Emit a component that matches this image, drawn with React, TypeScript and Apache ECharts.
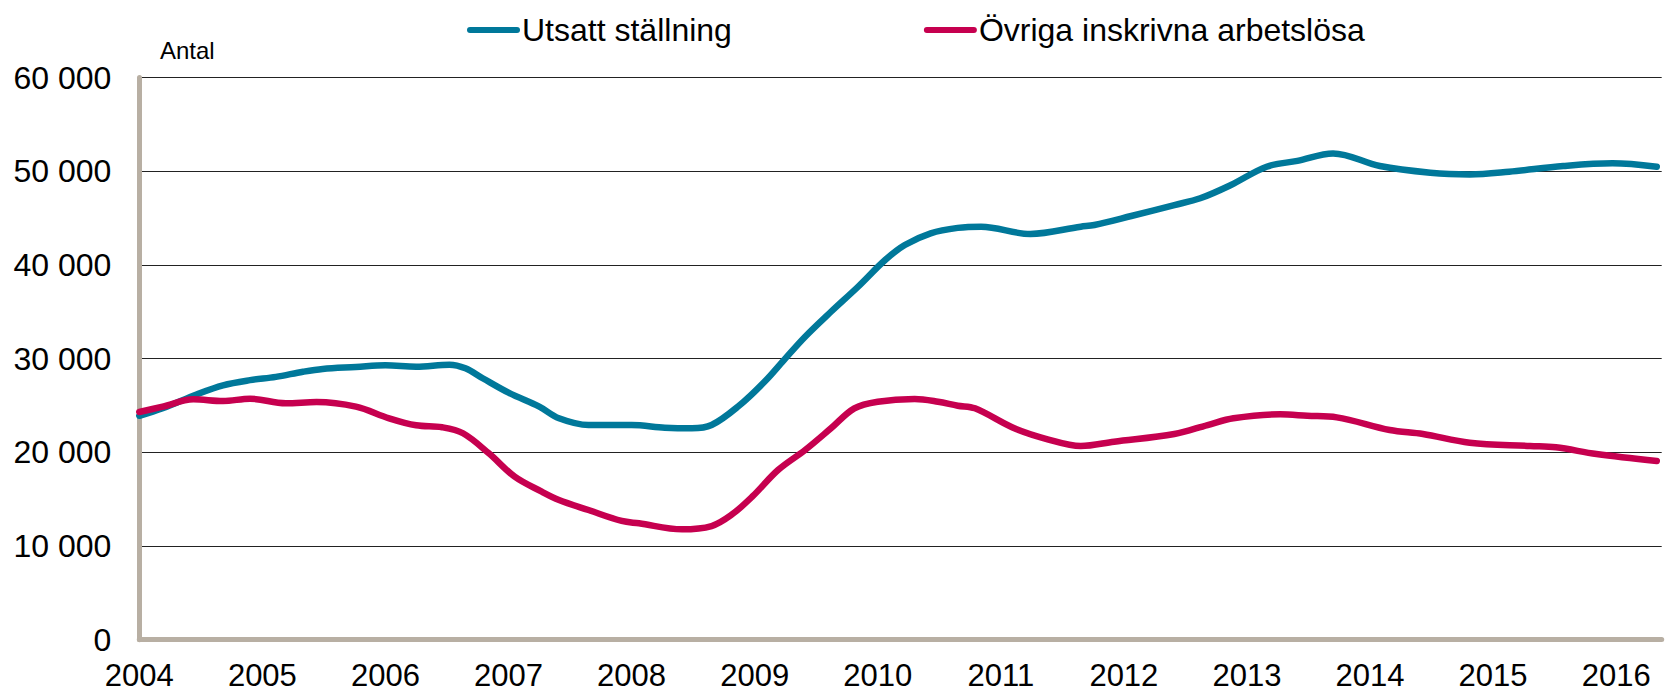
import React, { useEffect, useRef } from "react";
import * as echarts from "echarts";

// Sample times (decimal years) and values
const utsattTimes = [
  2004.0, 2004.19, 2004.47, 2004.68, 2004.9, 2005.11, 2005.33, 2005.49, 2005.76,
  2006.0, 2006.25, 2006.52, 2006.65, 2006.79, 2007.0, 2007.25, 2007.41, 2007.65,
  2008.0, 2008.27, 2008.49, 2008.65, 2008.87, 2009.08, 2009.25, 2009.41, 2009.62,
  2009.84, 2010.06, 2010.22, 2010.43, 2010.65, 2010.84, 2011.24, 2011.65, 2011.76,
  2012.06, 2012.41, 2012.62, 2012.87, 2013.16, 2013.41, 2013.7, 2014.08, 2014.49,
  2014.81, 2015.13, 2015.57, 2015.97, 2016.33,
];
const utsattValues = [
  23900, 24700, 26200, 27150, 27700, 28050, 28600, 28900, 29100,
  29280, 29140, 29350, 28960, 27900, 26360, 24870, 23630, 22910,
  22910, 22630, 22560, 22910, 24940, 27530, 30030, 32340, 35000,
  37670, 40520, 42120, 43370, 43950, 44080, 43300, 44080, 44260,
  45220, 46390, 47110, 48530, 50480, 51100, 51900, 50550, 49840,
  49660, 49950, 50550, 50840, 50480,
];

const ovrigaTimes = [
  2004.0, 2004.19, 2004.44, 2004.68, 2004.9, 2005.19, 2005.44, 2005.76, 2006.03,
  2006.25, 2006.46, 2006.63, 2006.84, 2007.05, 2007.27, 2007.41, 2007.65, 2007.92,
  2008.06, 2008.41, 2008.65, 2008.81, 2008.98, 2009.19, 2009.41, 2009.62, 2009.81,
  2010.0, 2010.3, 2010.49, 2010.65, 2010.79, 2011.11, 2011.38, 2011.65, 2011.92,
  2012.41, 2012.68, 2012.89, 2013.27, 2013.49, 2013.73, 2014.16, 2014.43, 2014.81,
  2015.3, 2015.51, 2015.84, 2016.33,
];
const ovrigaValues = [
  24300, 24870, 25650, 25470, 25720, 25230, 25370, 24870, 23630,
  22880, 22670, 22030, 19890, 17400, 15800, 14910, 13840, 12670,
  12420, 11780, 12130, 13310, 15260, 18110, 20250, 22560, 24690,
  25400, 25690, 25400, 24970, 24690, 22560, 21390, 20670, 21130,
  21950, 22910, 23630, 24050, 23900, 23730, 22380, 21950, 21020,
  20670, 20530, 19820, 19070,
];

const seriesNames = ["Utsatt ställning", "Övriga inskrivna arbetslösa"];
const yAxisName = "Antal";

const FONT = "'Liberation Sans', Arial, Helvetica, sans-serif";
const TEAL = "#00789A";
const MAGENTA = "#C6004F";
const AXIS = "#B8AFA3";

const pair = (t: number[], v: number[]) => t.map((x, i) => [x, v[i]]);

const fmtThousands = (v: number) =>
  String(Math.round(v)).replace(/\B(?=(\d{3})+(?!\d))/g, " ");

const legendIcon = "path://M3,0L50,0A3,3,0,0,1,50,6L3,6A3,3,0,0,1,3,0Z";

export default function App() {
  const ref = useRef<HTMLDivElement>(null);
  useEffect(() => {
    if (!ref.current) return;
    const chart = echarts.init(ref.current, undefined, { renderer: "svg" });
    chart.setOption({
      animation: false,
      backgroundColor: "#ffffff",
      textStyle: { fontFamily: FONT },
      grid: { left: 139.3, right: 6.3, top: 77.5, bottom: 52.3, containLabel: false },
      legend: {
        left: 462,
        top: 9,
        itemWidth: 53,
        itemHeight: 7,
        itemGap: 192,
        icon: legendIcon,
        textStyle: { fontSize: 32, color: "#000", fontFamily: FONT, padding: [0, 0, 0, -3] },
        data: seriesNames,
      },
      graphic: [
        {
          type: "text",
          left: 160,
          top: 38,
          style: { text: yAxisName, fontSize: 24, fill: "#000", fontFamily: FONT },
        },
      ],
      xAxis: {
        type: "value",
        min: 2004,
        max: 2016.37,
        interval: 1,
        axisLine: { show: true, lineStyle: { color: AXIS, width: 5 } },
        axisTick: { show: false },
        splitLine: { show: false },
        axisLabel: {
          fontSize: 31,
          color: "#000",
          fontFamily: FONT,
          margin: 20,
          showMaxLabel: false,
          formatter: (v: number) => String(Math.round(v)),
        },
      },
      yAxis: {
        type: "value",
        min: 0,
        max: 60000,
        interval: 10000,
        axisLine: { show: true, lineStyle: { color: AXIS, width: 5 } },
        axisTick: { show: false },
        splitLine: { show: true, lineStyle: { color: "#222222", width: 1 } },
        axisLabel: {
          fontSize: 32,
          color: "#000",
          fontFamily: FONT,
          margin: 28,
          formatter: (v: number) => fmtThousands(v),
        },
      },
      series: [
        {
          name: seriesNames[0],
          type: "line",
          data: pair(utsattTimes, utsattValues),
          smooth: 0.35,
          showSymbol: false,
          color: TEAL,
          lineStyle: { color: TEAL, width: 6.5, cap: "round", join: "round" },
        },
        {
          name: seriesNames[1],
          type: "line",
          data: pair(ovrigaTimes, ovrigaValues),
          smooth: 0.35,
          showSymbol: false,
          color: MAGENTA,
          lineStyle: { color: MAGENTA, width: 6.5, cap: "round", join: "round" },
        },
      ],
    });
    return () => chart.dispose();
  }, []);
  return (
    <div
      ref={ref}
      style={{ position: "fixed", left: 0, top: 0, width: 1668, height: 692, background: "#fff" }}
    />
  );
}
